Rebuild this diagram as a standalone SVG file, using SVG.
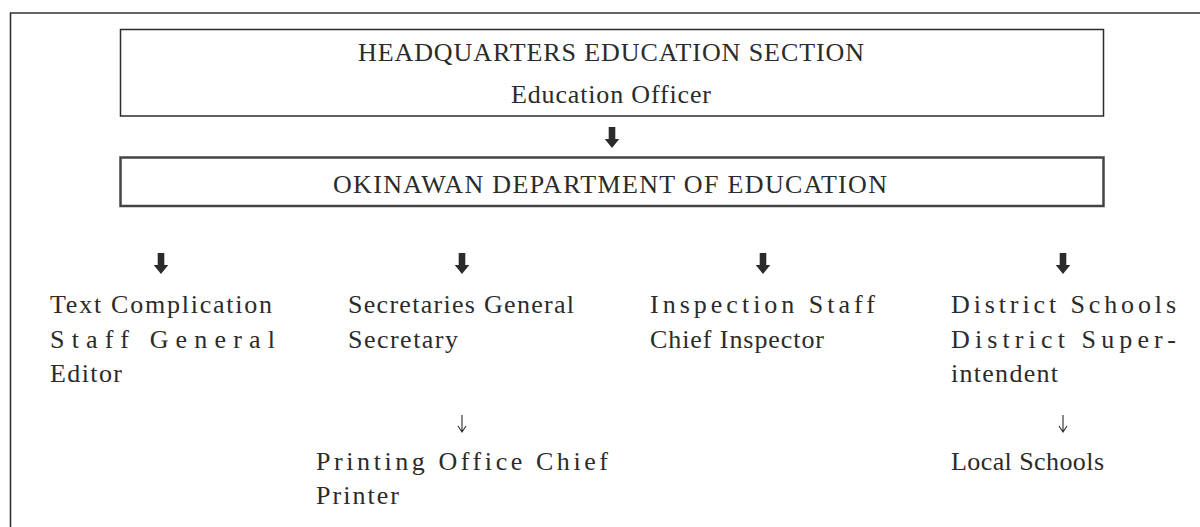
<svg xmlns="http://www.w3.org/2000/svg" width="1200" height="527" viewBox="0 0 1200 527">
  <style>
    .t { font-family: "Liberation Serif", "Times New Roman", serif; font-size: 26px; fill: #2b2b2b; }
    .box { fill: #ffffff; stroke: #2b2b2b; stroke-width: 1.5; }
    .box2 { fill: #ffffff; stroke: #444444; stroke-width: 2.5; }
    .frame { fill: none; stroke: #333333; stroke-width: 1.6; }
    .thick { fill: #2b2b2b; stroke: none; }
    .thin { fill: none; stroke: #2b2b2b; stroke-width: 1.1; }
  </style>
  <defs>
    <!-- solid block arrow, tip at (0,0), pointing down -->
    <path id="block-arrow" d="M -3.3 -21 H 3.3 V -9 H 7.3 L 0 0 L -7.3 -9 H -3.3 Z"/>
    <!-- thin arrow, tip at (0,0) -->
    <path id="thin-arrow" d="M 0 -17 V 0 M -4 -6 L 0 0 L 4 -6"/>
  </defs>

  <rect width="1200" height="527" fill="#ffffff"/>

  <!-- page frame (open to the right and bottom) -->
  <path class="frame" d="M 10.5 527 V 13 H 1200"/>

  <g id="hq-education-section">
    <rect class="box" x="120.5" y="29.5" width="983" height="86.5"/>
    <text class="t" x="358" y="61" textLength="506" lengthAdjust="spacing">HEADQUARTERS EDUCATION SECTION</text>
    <text class="t" x="511" y="103" textLength="200" lengthAdjust="spacing">Education Officer</text>
  </g>

  <g id="okinawan-dept">
    <rect class="box2" x="120.5" y="157.5" width="983" height="48.5"/>
    <text class="t" x="333" y="193" textLength="554" lengthAdjust="spacing">OKINAWAN DEPARTMENT OF EDUCATION</text>
  </g>

  <g id="text-compilation">
    <text class="t" x="50" y="313" textLength="222" lengthAdjust="spacing">Text Complication</text>
    <text class="t" x="50" y="348" textLength="225" lengthAdjust="spacing">Staff General</text>
    <text class="t" x="50" y="382" textLength="72" lengthAdjust="spacing">Editor</text>
  </g>

  <g id="secretaries">
    <text class="t" x="348" y="313" textLength="226" lengthAdjust="spacing">Secretaries General</text>
    <text class="t" x="348" y="348" textLength="110" lengthAdjust="spacing">Secretary</text>
  </g>

  <g id="printing-office">
    <text class="t" x="316" y="470" textLength="292" lengthAdjust="spacing">Printing Office Chief</text>
    <text class="t" x="316" y="504" textLength="83" lengthAdjust="spacing">Printer</text>
  </g>

  <g id="inspection-staff">
    <text class="t" x="650" y="313" textLength="225" lengthAdjust="spacing">Inspection Staff</text>
    <text class="t" x="650" y="348" textLength="174" lengthAdjust="spacing">Chief Inspector</text>
  </g>

  <g id="district-schools">
    <text class="t" x="951" y="313" textLength="225" lengthAdjust="spacing">District Schools</text>
    <text class="t" x="951" y="348" textLength="225" lengthAdjust="spacing">District Super-</text>
    <text class="t" x="951" y="382" textLength="107" lengthAdjust="spacing">intendent</text>
  </g>

  <g id="local-schools">
    <text class="t" x="951" y="470" textLength="153" lengthAdjust="spacing">Local Schools</text>
  </g>

  <g id="connectors">
    <use href="#block-arrow" class="thick" x="612" y="148"/>
    <use href="#block-arrow" class="thick" x="161" y="274"/>
    <use href="#block-arrow" class="thick" x="462" y="274"/>
    <use href="#block-arrow" class="thick" x="763" y="274"/>
    <use href="#block-arrow" class="thick" x="1063" y="274"/>
    <use href="#thin-arrow" class="thin" x="462" y="432"/>
    <use href="#thin-arrow" class="thin" x="1063" y="432"/>
  </g>
</svg>
